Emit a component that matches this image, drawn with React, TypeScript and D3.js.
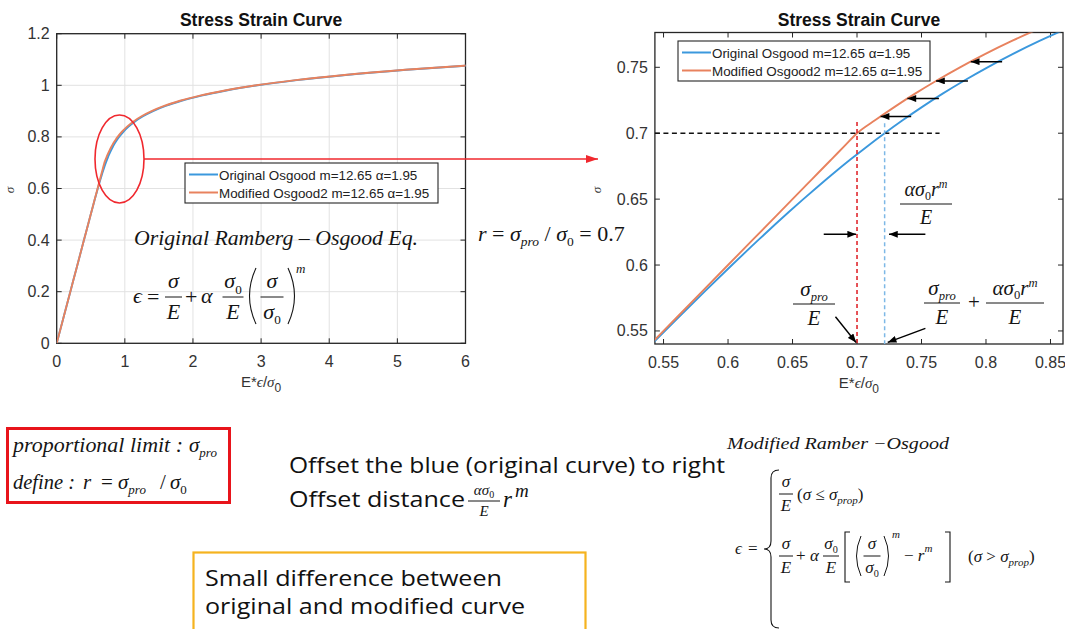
import React from 'react';
import * as d3 from 'd3';

// Normalised stress σ/σ0 and the matching normalised strain E·ε/σ0 of both curves
const stress = [0, 0.1, 0.2, 0.3, 0.4, 0.45, 0.5, 0.54, 0.56, 0.58, 0.6, 0.62, 0.64, 0.65, 0.66, 0.67, 0.68, 0.69, 0.7, 0.71, 0.72, 0.73, 0.74, 0.75, 0.76, 0.77, 0.78, 0.79, 0.8, 0.82, 0.84, 0.86, 0.88, 0.9, 0.92, 0.94, 0.96, 0.98, 1.0, 1.02, 1.04, 1.06, 1.076, 1.077];
const strainOriginal = [0, 0.1, 0.2, 0.3, 0.40002, 0.45008, 0.5003, 0.5408, 0.56127, 0.58198, 0.60305, 0.62461, 0.64689, 0.65838, 0.67017, 0.6823, 0.69483, 0.70784, 0.72141, 0.73561, 0.75057, 0.7664, 0.78323, 0.80123, 0.82058, 0.84147, 0.86415, 0.88886, 0.91591, 0.97841, 1.05487, 1.14936, 1.26702, 1.41429, 1.59912, 1.83146, 2.12349, 2.49023, 2.95, 3.52511, 4.24262, 5.13523, 6.00158, 6.0608];
const strainModified = [0, 0.1, 0.2, 0.3, 0.4, 0.45, 0.5, 0.54, 0.56, 0.58, 0.6, 0.62, 0.64, 0.65, 0.66, 0.67, 0.68, 0.69, 0.7, 0.71421, 0.72917, 0.745, 0.76183, 0.77983, 0.79918, 0.82007, 0.84275, 0.86746, 0.89451, 0.95701, 1.03347, 1.12796, 1.24562, 1.39289, 1.57772, 1.81006, 2.10209, 2.46883, 2.9286, 3.50371, 4.22122, 5.11383, 5.98019, 6.0394];

const seriesNames = ['Original Osgood m=12.65 \u03b1=1.95', 'Modified Osgood2 m=12.65 \u03b1=1.95'];
const seriesStrain = [strainOriginal, strainModified];
const seriesColors = ['#3b98dd', '#e8825e'];

const leftXTicks = [0, 1, 2, 3, 4, 5, 6];
const leftYTicks = [0, 0.2, 0.4, 0.6, 0.8, 1, 1.2];
const rightXTicks = [0.55, 0.6, 0.65, 0.7, 0.75, 0.8, 0.85];
const rightYTicks = [0.55, 0.6, 0.65, 0.7, 0.75];

// proportional limit r = σpro/σ0 and the strain of the original curve at that stress
const proportionalRatio = 0.7;
const originalStrainAtLimit = 0.72141;

// horizontal shift arrows between the curves (stress level, tail strain, head strain)
const shiftStress = [0.7127, 0.7263, 0.7397, 0.7543];
const shiftTail = [0.742, 0.7635, 0.786, 0.8125];
const shiftHead = [0.7183, 0.7391, 0.7613, 0.7882];

const SANS = '"Liberation Sans", Arial, Helvetica, sans-serif';
const SERIF = '"Liberation Serif", "Times New Roman", serif';
const BODY = '"Open Sans", "Noto Sans", sans-serif';
const AXIS = '#262626';
const INK = '#151515';

const xL = d3.scaleLinear().domain([0, 6]).range([56.7, 465.5]);
const yL = d3.scaleLinear().domain([0, 1.2]).range([343.3, 33.7]);
const xR = d3.scaleLinear().domain([0.5433, 0.8597]).range([654.9, 1063]);
const yR = d3.scaleLinear().domain([0.5401, 0.7764]).range([344, 32.5]);

const curvePath = (xs, ys, strain) =>
  d3.line().x((_, i) => xs(strain[i])).y((s) => ys(s)).curve(d3.curveMonotoneX)(stress);

function Frame({ x, y, xTicks, yTicks, grid, title, labelY }) {
  const [l, r] = x.range();
  const [b, t] = y.range();
  const tl = 5;
  const cx = (l + r) / 2;
  return (
    <g>
      {grid && xTicks.map((v) => <line key={'gx' + v} x1={x(v)} x2={x(v)} y1={t} y2={b} stroke="#e2e2e2" strokeWidth={1} />)}
      {grid && yTicks.map((v) => <line key={'gy' + v} x1={l} x2={r} y1={y(v)} y2={y(v)} stroke="#e2e2e2" strokeWidth={1} />)}
      {xTicks.map((v) => (
        <g key={'tx' + v}>
          <line x1={x(v)} x2={x(v)} y1={b} y2={b - tl} stroke={AXIS} />
          <line x1={x(v)} x2={x(v)} y1={t} y2={t + tl} stroke={AXIS} />
          <text x={x(v)} y={b + 24} textAnchor="middle" fontFamily={SANS} fontSize={16} fill="#333">{String(v)}</text>
        </g>
      ))}
      {yTicks.map((v) => (
        <g key={'ty' + v}>
          <line x1={l} x2={l + tl} y1={y(v)} y2={y(v)} stroke={AXIS} />
          <line x1={r} x2={r - tl} y1={y(v)} y2={y(v)} stroke={AXIS} />
          <text x={l - 7} y={y(v) + 5.5} textAnchor="end" fontFamily={SANS} fontSize={16} fill="#333">{String(v)}</text>
        </g>
      ))}
      <rect x={l} y={t} width={r - l} height={b - t} fill="none" stroke={AXIS} strokeWidth={1.3} />
      <text x={cx} y={26} textAnchor="middle" fontFamily={SANS} fontWeight="bold" fontSize={17.5} fill="#111">{title}</text>
      <text x={cx} y={b + 44} textAnchor="middle" fontFamily={SANS} fontSize={15} fill="#333">
        E*<tspan fontFamily={SERIF} fontStyle="italic">{'\u03f5'}</tspan>/<tspan fontFamily={SERIF} fontStyle="italic">{'\u03c3'}</tspan>
        <tspan dy={5} fontSize={12}>0</tspan>
      </text>
      <text transform={`translate(${labelY},190) rotate(-90)`} textAnchor="middle" fontFamily={SERIF} fontStyle="italic" fontSize={13} fill="#333">{'\u03c3'}</text>
    </g>
  );
}

function Legend({ x, y, w }) {
  return (
    <g>
      <rect x={x} y={y} width={w} height={40} fill="#fff" stroke={AXIS} strokeWidth={1.1} />
      {seriesNames.map((name, i) => (
        <g key={name}>
          <line x1={x + 4} x2={x + 33} y1={y + 11.5 + i * 18} y2={y + 11.5 + i * 18} stroke={seriesColors[i]} strokeWidth={2} />
          <text x={x + 34} y={y + 16.5 + i * 18} fontFamily={SANS} fontSize={13.4} fill="#222">{name}</text>
        </g>
      ))}
    </g>
  );
}

function Frac({ cx, y, w, fs, num, den, lw = 1 }) {
  return (
    <g fontFamily={SERIF} fontStyle="italic" fontSize={fs} textAnchor="middle" fill={INK}>
      <text x={cx} y={y - fs * 0.4}>{num}</text>
      <line x1={cx - w / 2} x2={cx + w / 2} y1={y} y2={y} stroke={INK} strokeWidth={lw} />
      <text x={cx} y={y + fs * 0.98}>{den}</text>
    </g>
  );
}

const sig = '\u03c3';
const alp = '\u03b1';
const eps = '\u03f5';

const offsetNum = (fs) => (
  <>
    {alp}{sig}<tspan dy={fs * 0.22} fontSize={fs * 0.6} fontStyle="normal">0</tspan>
    <tspan dy={-fs * 0.22}>r</tspan><tspan dy={-fs * 0.38} fontSize={fs * 0.6}>m</tspan>
  </>
);
const sigPro = (fs) => (
  <>
    {sig}<tspan dy={fs * 0.25} fontSize={fs * 0.6}>pro</tspan>
  </>
);
const sigZero = (fs) => (
  <>
    {sig}<tspan dy={fs * 0.25} fontSize={fs * 0.6} fontStyle="normal">0</tspan>
  </>
);

function LeftChart() {
  return (
    <g>
      <Frame x={xL} y={yL} xTicks={leftXTicks} yTicks={leftYTicks} grid title="Stress Strain Curve" labelY={14} />
      <g clipPath="url(#clipL)">
        {seriesStrain.map((s, i) => (
          <path key={i} d={curvePath(xL, yL, s)} fill="none" stroke={seriesColors[i]} strokeWidth={1.9} />
        ))}
      </g>
      <Legend x={185} y={163} w={253} />
      <text x={134} y={245} fontFamily={SERIF} fontStyle="italic" fontSize={21} fill={INK} textLength={284} lengthAdjust="spacingAndGlyphs">
        Original Ramberg {'\u2013'} Osgood Eq.
      </text>
      <g fontFamily={SERIF} fontSize={22} fill={INK}>
        <text x={133} y={303} fontStyle="italic">{eps}</text>
        <text x={147} y={304}>=</text>
        <text x={185} y={304}>+</text>
        <text x={201} y={303} fontStyle="italic">{alp}</text>
        <text x={296} y={273} fontStyle="italic" fontSize={13}>m</text>
      </g>
      <Frac cx={173.5} y={297} w={17} fs={22} num={sig} den="E" />
      <Frac cx={233} y={297} w={21} fs={22} num={sigZero(22)} den="E" />
      <Frac cx={272} y={297} w={23} fs={22} num={sig} den={sigZero(22)} />
      <path d="M256,268 Q243,296 256,324" fill="none" stroke={INK} strokeWidth={1.1} />
      <path d="M288,268 Q301,296 288,324" fill="none" stroke={INK} strokeWidth={1.1} />
      <ellipse cx={119.5} cy={159} rx={24.5} ry={44} fill="none" stroke="#f0282e" strokeWidth={1.6} />
      <line x1={144} y1={159} x2={598} y2={159} stroke="#f0282e" strokeWidth={1.6} markerEnd="url(#redHead)" />
    </g>
  );
}

// guide arrows in strain/stress units of the zoomed chart
const guideArrows = [
  { x1: 0.6742, y1: 0.6233, x2: 0.6993, y2: 0.6233 },
  { x1: 0.753, y1: 0.6233, x2: 0.7248, y2: 0.6233 },
  { x1: 0.6833, y1: 0.5608, x2: 0.6993, y2: 0.5412 },
  { x1: 0.753, y1: 0.552, x2: 0.7238, y2: 0.5413 },
];

function RightChart() {
  const [l] = xR.range();
  const [b] = yR.range();
  return (
    <g>
      <Frame x={xR} y={yR} xTicks={rightXTicks} yTicks={rightYTicks} title="Stress Strain Curve" labelY={601} />
      <g clipPath="url(#clipR)">
        {seriesStrain.map((s, i) => (
          <path key={i} d={curvePath(xR, yR, s)} fill="none" stroke={seriesColors[i]} strokeWidth={1.9} />
        ))}
        <line x1={l} x2={xR(0.764)} y1={yR(proportionalRatio)} y2={yR(proportionalRatio)} stroke="#111" strokeWidth={1.4} strokeDasharray="5,3.5" />
        <line x1={xR(proportionalRatio)} x2={xR(proportionalRatio)} y1={yR(0.7085)} y2={b} stroke="#e0282e" strokeWidth={1.6} strokeDasharray="4,3" />
        <line x1={xR(originalStrainAtLimit)} x2={xR(originalStrainAtLimit)} y1={yR(0.7075)} y2={b} stroke="#7db8e6" strokeWidth={1.5} strokeDasharray="4,3" />
        {shiftStress.map((s, i) => (
          <line key={'sh' + i} x1={xR(shiftTail[i])} x2={xR(shiftHead[i])} y1={yR(s)} y2={yR(s)} stroke="#000" strokeWidth={1.5} markerEnd="url(#blackHead)" />
        ))}
        {guideArrows.map((a, i) => (
          <line key={'ga' + i} x1={xR(a.x1)} y1={yR(a.y1)} x2={xR(a.x2)} y2={yR(a.y2)} stroke="#000" strokeWidth={1.4} markerEnd="url(#blackHead)" />
        ))}
      </g>
      <Legend x={678} y={41} w={252} />
      <Frac cx={926} y={204} w={52} fs={20} num={offsetNum(20)} den="E" />
      <Frac cx={814} y={304} w={42} fs={21} num={sigPro(21)} den="E" />
      <Frac cx={942} y={303} w={36} fs={21} num={sigPro(21)} den="E" />
      <text x={968} y={309} fontFamily={SERIF} fontSize={21} fill={INK}>+</text>
      <Frac cx={1015} y={303} w={58} fs={21} num={offsetNum(21)} den="E" />
      <text x={478} y={241} fontFamily={SERIF} fontSize={22} fill={INK}>
        <tspan fontStyle="italic">r</tspan> = <tspan fontStyle="italic">{sig}</tspan>
        <tspan dy={5} fontSize={13.5} fontStyle="italic">pro</tspan>
        <tspan dy={-5}> / </tspan><tspan fontStyle="italic">{sig}</tspan>
        <tspan dy={5} fontSize={13.5}>0</tspan>
        <tspan dy={-5}> = 0.7</tspan>
      </text>
    </g>
  );
}

function Notes() {
  return (
    <g>
      {/* definition box */}
      <rect x={7.5} y={428.5} width={222} height={74} fill="none" stroke="#e8141b" strokeWidth={3} />
      <g fontFamily={SERIF} fontStyle="italic" fontSize={21} fill={INK}>
        <text x={13} y={452} textLength={170} lengthAdjust="spacingAndGlyphs">proportional limit :</text>
        <text x={189} y={452}>{sig}<tspan dy={5} fontSize={13}>pro</tspan></text>
        <text x={13} y={489} textLength={62} lengthAdjust="spacingAndGlyphs">define :</text>
        <text x={83} y={489}>r</text>
        <text x={101} y={489} fontStyle="normal">=</text>
        <text x={118} y={489}>{sig}<tspan dy={5} fontSize={13}>pro</tspan></text>
        <text x={160} y={489} fontStyle="normal">/</text>
        <text x={170} y={489}>{sig}<tspan dy={5} fontSize={13} fontStyle="normal">0</tspan></text>
      </g>

      {/* explanation lines */}
      <text x={289} y={473} fontFamily={BODY} fontSize={21.5} fill="#111" textLength={436} lengthAdjust="spacingAndGlyphs">
        Offset the blue (original curve) to right
      </text>
      <text x={289} y={507} fontFamily={BODY} fontSize={21.5} fill="#111" textLength={176} lengthAdjust="spacingAndGlyphs">
        Offset distance
      </text>
      <Frac cx={484} y={501} w={32} fs={15} num={<>{alp}{sig}<tspan dy={3} fontSize={10} fontStyle="normal">0</tspan></>} den="E" />
      <text x={503} y={507} fontFamily={SERIF} fontStyle="italic" fontSize={23} fill="#111">r</text>
      <text x={515} y={497} fontFamily={SERIF} fontStyle="italic" fontSize={19} fill="#111">m</text>

      {/* summary box */}
      <rect x={193.5} y={552.5} width={392} height={90} fill="none" stroke="#f5b31f" strokeWidth={2.2} />
      <text x={205} y={586} fontFamily={BODY} fontSize={22.5} fill="#111" textLength={297} lengthAdjust="spacingAndGlyphs">
        Small difference between
      </text>
      <text x={205} y={614} fontFamily={BODY} fontSize={22.5} fill="#111" textLength={320} lengthAdjust="spacingAndGlyphs">
        original and modified curve
      </text>

      {/* piecewise modified law */}
      <text x={727} y={449} fontFamily={SERIF} fontStyle="italic" fontSize={17} fill={INK} textLength={222} lengthAdjust="spacingAndGlyphs">
        Modified Ramber {'\u2212'}Osgood
      </text>
      <g fontFamily={SERIF} fontSize={17} fill={INK}>
        <text x={735} y={554} fontStyle="italic">{eps}</text>
        <text x={748} y={554}>=</text>
        <text x={797} y={500}>(<tspan fontStyle="italic">{sig}</tspan> {'\u2264'} <tspan fontStyle="italic">{sig}</tspan><tspan dy={4} fontSize={11} fontStyle="italic">prop</tspan><tspan dy={-4}>)</tspan></text>
        <text x={796} y={561}>+</text>
        <text x={810} y={561} fontStyle="italic">{alp}</text>
        <text x={892} y={538} fontStyle="italic" fontSize={11}>m</text>
        <text x={904} y={561}>{'\u2212'} <tspan fontStyle="italic">r</tspan><tspan dy={-9} fontSize={11} fontStyle="italic">m</tspan></text>
        <text x={968} y={562}>(<tspan fontStyle="italic">{sig}</tspan> &gt; <tspan fontStyle="italic">{sig}</tspan><tspan dy={4} fontSize={11} fontStyle="italic">prop</tspan><tspan dy={-4}>)</tspan></text>
      </g>
      <path d="M779,470 Q771,470 771,478 L771,541 Q771,549 764,549 Q771,549 771,557 L771,620 Q771,628 779,628" fill="none" stroke={INK} strokeWidth={1.1} />
      <Frac cx={786} y={494} w={14} fs={17} num={sig} den="E" />
      <Frac cx={786} y={556} w={14} fs={17} num={sig} den="E" />
      <Frac cx={831} y={556} w={16} fs={17} num={sigZero(17)} den="E" />
      <path d="M850,532 L845,532 L845,582 L850,582" fill="none" stroke={INK} strokeWidth={1.1} />
      <path d="M861,536 Q852,556 861,576" fill="none" stroke={INK} strokeWidth={1} />
      <Frac cx={872} y={556} w={17} fs={17} num={sig} den={sigZero(17)} />
      <path d="M884,536 Q893,556 884,576" fill="none" stroke={INK} strokeWidth={1} />
      <path d="M945,532 L950,532 L950,582 L945,582" fill="none" stroke={INK} strokeWidth={1.1} />
    </g>
  );
}

export default function App() {
  const [lL, rL] = xL.range();
  const [bL, tL] = yL.range();
  const [lR, rR] = xR.range();
  const [bR, tR] = yR.range();
  return (
    <svg width={1065} height={629} style={{ position: 'absolute', left: 0, top: 0, background: '#fff' }}>
      <defs>
        <clipPath id="clipL"><rect x={lL} y={tL} width={rL - lL} height={bL - tL} /></clipPath>
        <clipPath id="clipR"><rect x={lR} y={tR} width={rR - lR} height={bR - tR} /></clipPath>
        <marker id="blackHead" viewBox="0 0 10 8" refX="10" refY="4" markerWidth="10" markerHeight="7" markerUnits="userSpaceOnUse" orient="auto">
          <path d="M0,0 L10,4 L0,8 z" fill="#000" />
        </marker>
        <marker id="redHead" viewBox="0 0 12 8" refX="12" refY="4" markerWidth="13" markerHeight="8" markerUnits="userSpaceOnUse" orient="auto">
          <path d="M0,0 L12,4 L0,8 z" fill="#f0282e" />
        </marker>
      </defs>
      <rect x={0} y={0} width={1065} height={629} fill="#fff" />
      <LeftChart />
      <RightChart />
      <Notes />
    </svg>
  );
}
